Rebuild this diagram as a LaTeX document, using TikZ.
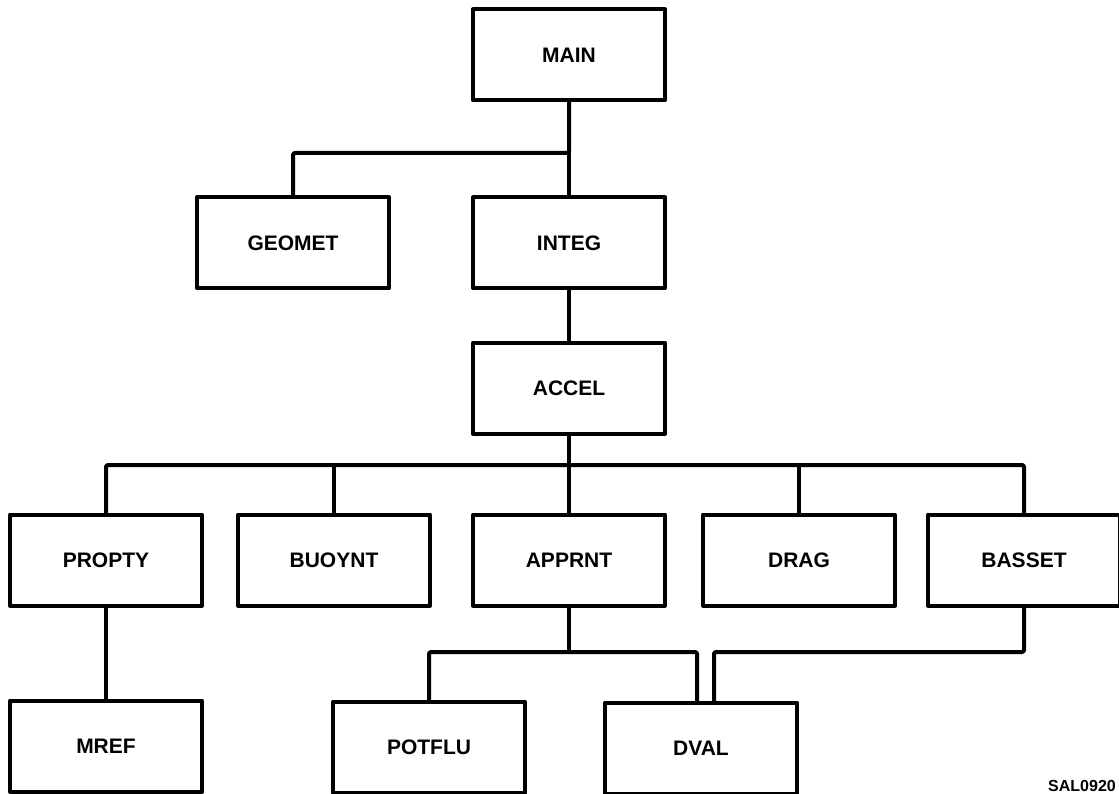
\documentclass[tikz,border=0pt]{standalone}
\usepackage{fontspec}
\setmainfont{Liberation Sans}
\begin{document}
\begin{tikzpicture}[x=1pt,y=-1pt,
  box/.style={draw, line width=4pt, line join=round, minimum width=192pt, minimum height=91pt, inner sep=0pt, font=\fontsize{21}{24}\selectfont\bfseries},
  wire/.style={line width=4pt, line join=round, line cap=round, rounded corners=2pt}]
\useasboundingbox (0,0) rectangle (1119,794);
\clip (0,0) rectangle (1119,794);
\node[box] (main) at (569,55) {MAIN};
\node[box] (geomet) at (293,243) {GEOMET};
\node[box] (integ) at (569,243) {INTEG};
\node[box] (accel) at (569,388) {ACCEL};
\node[box] (propty) at (106,560) {PROPTY};
\node[box] (buoynt) at (334,560) {BUOYNT};
\node[box] (apprnt) at (569,560) {APPRNT};
\node[box] (drag) at (799,560) {DRAG};
\node[box] (basset) at (1024,560) {BASSET};
\node[box] (mref) at (106,746) {MREF};
\node[box] (potflu) at (429,747) {POTFLU};
\node[box] (dval) at (701,748) {DVAL};
\coordinate (b1) at (0,153);
\coordinate (b2) at (0,465);
\coordinate (b3) at (0,652);
\coordinate (dl) at ([xshift=-4pt]dval.north);
\coordinate (dr) at ([xshift=13pt]dval.north);
\draw[wire] (main.south) -- (main.south |- b1) -| (geomet.north);
\draw[wire] (main.south |- b1) -- (integ.north);
\draw[wire] (integ.south) -- (accel.north);
\draw[wire] (accel.south) -- (apprnt.north);
\draw[wire] (propty.north) -- (propty.north |- b2) -- (basset.north |- b2) -- (basset.north);
\draw[wire] (buoynt.north) -- (buoynt.north |- b2);
\draw[wire] (drag.north) -- (drag.north |- b2);
\draw[wire] (propty.south) -- (mref.north);
\draw[wire] (apprnt.south) -- (apprnt.south |- b3);
\draw[wire] (potflu.north) -- (potflu.north |- b3) -- (dl |- b3) -- (dl);
\draw[wire] (basset.south) -- (basset.south |- b3) -- (dr |- b3) -- (dr);
\node[anchor=base west, inner sep=0pt, font=\fontsize{16}{18}\selectfont\bfseries] (sal) at (1048,791) {SAL0920};
\end{tikzpicture}
\end{document}
